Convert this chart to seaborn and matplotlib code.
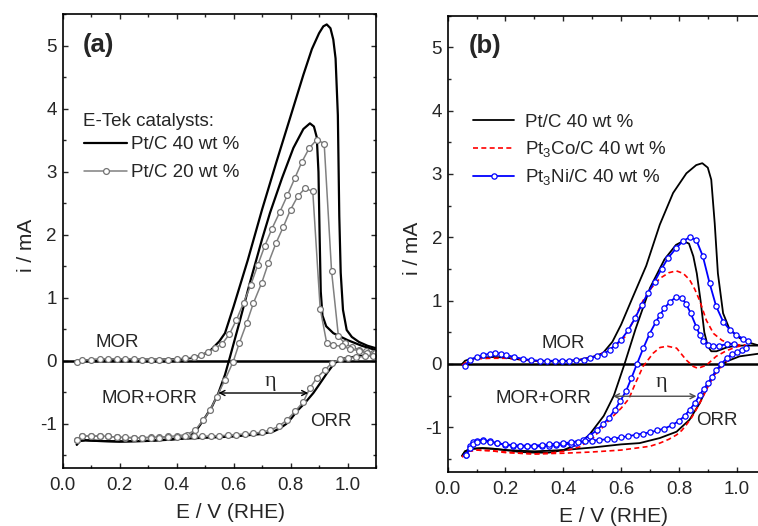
import matplotlib
matplotlib.use("Agg")
import matplotlib.pyplot as plt
from matplotlib.ticker import MultipleLocator
import seaborn as sns

# ---------------- panel (a): E-Tek Pt/C 40 wt % (black) and Pt/C 20 wt % (grey) ----------------
a_mor40_E = [0.05, 0.08, 0.15, 0.25, 0.35, 0.42, 0.46, 0.49, 0.52, 0.55, 0.57, 0.60, 0.65, 0.70, 0.75,
             0.80, 0.845, 0.875, 0.90, 0.915, 0.927, 0.94, 0.95, 0.958, 0.966, 0.971, 0.976, 0.984,
             0.997, 1.015, 1.04, 1.07, 1.1]
a_mor40_i = [0.0, 0.01, 0.02, 0.02, 0.02, 0.03, 0.05, 0.09, 0.17, 0.31, 0.44, 0.86, 1.6, 2.4, 3.15,
             3.88, 4.54, 4.95, 5.2, 5.31, 5.34, 5.28, 5.10, 4.8, 3.9, 2.3, 1.4, 0.81,
             0.49, 0.38, 0.30, 0.24, 0.2]

a_mix40_E = [0.05, 0.06, 0.08, 0.12, 0.2, 0.3, 0.38, 0.42, 0.447, 0.47, 0.5, 0.525, 0.547, 0.57, 0.588,
             0.62, 0.658, 0.70, 0.728, 0.77, 0.81, 0.845, 0.868, 0.882, 0.892, 0.898, 0.902, 0.906,
             0.912, 0.925, 0.95, 1.0, 1.05, 1.1]
a_mix40_i = [-1.33, -1.27, -1.26, -1.27, -1.28, -1.27, -1.25, -1.23, -1.2, -1.1, -0.9, -0.72, -0.51, -0.22, 0.07,
             0.6, 1.25, 1.93, 2.35, 2.9, 3.38, 3.68, 3.77, 3.72, 3.55, 3.0, 2.0, 1.1,
             0.72, 0.55, 0.44, 0.33, 0.24, 0.17]

a_orr40_E = [0.05, 0.06, 0.08, 0.12, 0.2, 0.3, 0.4, 0.5, 0.6, 0.7, 0.74, 0.763, 0.785, 0.805, 0.822,
             0.85, 0.88, 0.9, 0.927, 0.945, 0.962, 0.98, 1.0, 1.05, 1.1]
a_orr40_i = [-1.33, -1.27, -1.26, -1.27, -1.28, -1.27, -1.24, -1.22, -1.2, -1.16, -1.12, -1.07, -1.0, -0.9, -0.8,
             -0.67, -0.51, -0.38, -0.2, -0.09, -0.01, 0.03, 0.05, 0.08, 0.1]

a_mor20_E = [0.05, 0.07, 0.10, 0.13, 0.16, 0.19, 0.22, 0.25, 0.28, 0.31, 0.34, 0.37, 0.40, 0.43, 0.46,
             0.485, 0.51, 0.535, 0.56, 0.585, 0.61, 0.635, 0.66, 0.685, 0.71, 0.735, 0.763, 0.789,
             0.816, 0.84, 0.866, 0.892, 0.918, 0.944, 0.968, 0.99, 1.015, 1.04, 1.065, 1.09]
a_mor20_i = [-0.02, 0.01, 0.02, 0.03, 0.03, 0.03, 0.03, 0.03, 0.02, 0.02, 0.02, 0.02, 0.03, 0.04, 0.06,
             0.09, 0.14, 0.2, 0.27, 0.42, 0.65, 0.92, 1.2, 1.52, 1.83, 2.1, 2.37, 2.63,
             2.91, 3.16, 3.38, 3.51, 3.45, 1.42, 0.39, 0.28, 0.22, 0.18, 0.15, 0.13]

a_mix20_E = [0.05, 0.07, 0.10, 0.13, 0.16, 0.19, 0.22, 0.25, 0.28, 0.31, 0.34, 0.37, 0.40, 0.436, 0.465,
             0.494, 0.518, 0.541, 0.570, 0.599, 0.620, 0.646, 0.670, 0.699, 0.722, 0.749, 0.775, 0.800,
             0.825, 0.851, 0.878, 0.904, 0.927, 0.95, 0.98, 1.01, 1.04, 1.07, 1.095]
a_mix20_i = [-1.25, -1.19, -1.19, -1.19, -1.2, -1.21, -1.22, -1.22, -1.22, -1.21, -1.21, -1.2, -1.19, -1.17, -1.10,
             -0.94, -0.78, -0.57, -0.30, -0.01, 0.28, 0.60, 0.92, 1.24, 1.55, 1.87, 2.13, 2.40,
             2.61, 2.74, 2.69, 0.83, 0.28, 0.25, 0.23, 0.19, 0.16, 0.13, 0.12]

a_orr20_E = [0.05, 0.07, 0.10, 0.13, 0.16, 0.19, 0.22, 0.25, 0.28, 0.31, 0.34, 0.37, 0.40, 0.43, 0.46,
             0.49, 0.52, 0.55, 0.58, 0.61, 0.64, 0.67, 0.70, 0.728, 0.758, 0.787, 0.816, 0.845,
             0.868, 0.892, 0.921, 0.944, 0.974, 1.0, 1.03, 1.06, 1.09]
a_orr20_i = [-1.25, -1.2, -1.19, -1.2, -1.2, -1.21, -1.21, -1.22, -1.22, -1.22, -1.22, -1.21, -1.21, -1.2, -1.2,
             -1.2, -1.19, -1.19, -1.18, -1.17, -1.16, -1.15, -1.13, -1.10, -1.04, -0.94, -0.80, -0.65,
             -0.43, -0.27, -0.14, -0.04, 0.03, 0.05, 0.06, 0.07, 0.08]

# ---------------- panel (b): Pt/C (black), Pt3Co/C (red dashed), Pt3Ni/C (blue circles) ----------------
b_mor_pt_E = [0.05, 0.06, 0.08, 0.12, 0.16, 0.2, 0.25, 0.3, 0.35, 0.4, 0.45, 0.5, 0.537, 0.57, 0.6,
              0.64, 0.687, 0.734, 0.78, 0.826, 0.86, 0.881, 0.9, 0.912, 0.924, 0.935, 0.953, 0.976,
              1.01, 1.04, 1.07, 1.1]
b_mor_pt_i = [0.0, 0.05, 0.08, 0.1, 0.11, 0.1, 0.07, 0.05, 0.04, 0.04, 0.06, 0.11, 0.17, 0.35, 0.62,
              1.05, 1.55, 2.2, 2.7, 3.01, 3.14, 3.17, 3.1, 2.91, 2.22, 1.43, 0.80, 0.54,
              0.41, 0.34, 0.3, 0.28]

b_mix_pt_E = [0.05, 0.06, 0.08, 0.12, 0.16, 0.2, 0.25, 0.3, 0.35, 0.4, 0.45, 0.49, 0.54, 0.575, 0.612,
              0.65, 0.70, 0.75, 0.79, 0.815, 0.835, 0.85, 0.862, 0.875, 0.888, 0.9, 0.912, 0.93,
              0.965, 1.0, 1.04, 1.07, 1.1]
b_mix_pt_i = [-1.45, -1.38, -1.34, -1.33, -1.34, -1.36, -1.39, -1.4, -1.4, -1.36, -1.27, -1.12, -0.82, -0.5, 0.0,
              0.55, 1.2, 1.65, 1.88, 1.94, 1.9, 1.7, 1.43, 1.0, 0.5, 0.28, 0.2, 0.2,
              0.26, 0.29, 0.29, 0.29, 0.29]

b_orr_pt_E = [0.05, 0.06, 0.08, 0.12, 0.16, 0.2, 0.3, 0.4, 0.5, 0.6, 0.664, 0.734, 0.792, 0.837, 0.872,
              0.901, 0.929, 0.965, 1.01, 1.073, 1.1]
b_orr_pt_i = [-1.45, -1.38, -1.34, -1.33, -1.34, -1.36, -1.38, -1.36, -1.32, -1.27, -1.25, -1.17, -1.07, -0.88, -0.62,
              -0.33, -0.10, 0.04, 0.12, 0.16, 0.17]

b_mor_co_E = [0.05, 0.07, 0.1, 0.15, 0.2, 0.25, 0.3, 0.35, 0.4, 0.45, 0.5, 0.55, 0.58, 0.612, 0.645,
              0.676, 0.705, 0.734, 0.765, 0.791, 0.815, 0.837, 0.855, 0.872, 0.895, 0.92, 0.95, 0.98,
              1.01, 1.03]
b_mor_co_i = [-0.02, 0.05, 0.08, 0.09, 0.09, 0.07, 0.05, 0.04, 0.04, 0.06, 0.1, 0.2, 0.29, 0.42, 0.7,
              1.0, 1.2, 1.35, 1.44, 1.47, 1.43, 1.33, 1.18, 1.0, 0.69, 0.48, 0.37, 0.32,
              0.3, 0.3]

b_mix_co_E = [0.05, 0.07, 0.1, 0.15, 0.2, 0.25, 0.3, 0.35, 0.4, 0.457, 0.503, 0.56, 0.6, 0.627, 0.65,
              0.676, 0.711, 0.735, 0.76, 0.792, 0.826, 0.85, 0.866, 0.895, 0.929, 0.965, 1.0, 1.03]
b_mix_co_i = [-1.47, -1.38, -1.36, -1.37, -1.39, -1.41, -1.42, -1.41, -1.38, -1.31, -1.17, -0.88, -0.7, -0.55, -0.3,
              -0.04, 0.17, 0.26, 0.28, 0.25, 0.06, -0.04, -0.07, -0.02, 0.12, 0.21, 0.27, 0.3]

b_orr_co_E = [0.05, 0.07, 0.1, 0.15, 0.2, 0.3, 0.4, 0.5, 0.6, 0.7, 0.734, 0.765, 0.792, 0.81, 0.826,
              0.845, 0.86, 0.878, 0.895, 0.91, 0.924, 0.94, 0.953, 0.97, 0.988, 1.01, 1.03]
b_orr_co_i = [-1.47, -1.38, -1.36, -1.37, -1.4, -1.42, -1.41, -1.39, -1.36, -1.3, -1.25, -1.19, -1.12, -1.05, -0.96,
              -0.84, -0.72, -0.57, -0.41, -0.28, -0.17, -0.08, -0.02, 0.06, 0.14, 0.2, 0.23]

b_mor_ni_E = [0.059, 0.076, 0.1, 0.122, 0.145, 0.163, 0.185, 0.203, 0.23, 0.26, 0.29, 0.318, 0.345, 0.37, 0.395,
              0.42, 0.445, 0.47, 0.491, 0.515, 0.54, 0.56, 0.58, 0.6, 0.624, 0.648, 0.671, 0.693,
              0.716, 0.74, 0.762, 0.791, 0.814, 0.837, 0.86, 0.883, 0.906, 0.929, 0.953, 0.976, 0.999,
              1.022, 1.04]
b_mor_ni_i = [-0.03, 0.06, 0.11, 0.14, 0.16, 0.17, 0.16, 0.14, 0.11, 0.08, 0.06, 0.05, 0.05, 0.05, 0.05,
              0.05, 0.06, 0.07, 0.09, 0.12, 0.16, 0.22, 0.3, 0.38, 0.53, 0.72, 0.93, 1.12,
              1.3, 1.5, 1.67, 1.83, 1.94, 2.0, 1.96, 1.70, 1.28, 0.91, 0.67, 0.54, 0.46,
              0.40, 0.36]

b_mix_ni_E = [0.065, 0.076, 0.088, 0.1, 0.122, 0.145, 0.17, 0.2, 0.225, 0.25, 0.275, 0.3, 0.325, 0.35, 0.375,
              0.4, 0.425, 0.445, 0.468, 0.491, 0.515, 0.538, 0.558, 0.578, 0.598, 0.618, 0.636, 0.655,
              0.677, 0.699, 0.72, 0.734, 0.75, 0.769, 0.791, 0.81, 0.825, 0.841, 0.86, 0.872, 0.883,
              0.9, 0.918, 0.94, 0.965, 0.99]
b_mix_ni_i = [-1.44, -1.3, -1.23, -1.21, -1.2, -1.22, -1.25, -1.28, -1.29, -1.3, -1.3, -1.3, -1.3, -1.29, -1.28,
              -1.27, -1.26, -1.25, -1.2, -1.13, -1.05, -0.95, -0.85, -0.73, -0.58, -0.42, -0.22, 0.0,
              0.25, 0.48, 0.66, 0.77, 0.88, 0.98, 1.06, 1.04, 0.95, 0.80, 0.59, 0.46, 0.36,
              0.3, 0.28, 0.29, 0.31, 0.32]

b_orr_ni_E = [0.065, 0.076, 0.088, 0.1, 0.122, 0.145, 0.17, 0.2, 0.225, 0.25, 0.275, 0.3, 0.325, 0.35, 0.375,
              0.4, 0.425, 0.45, 0.475, 0.5, 0.525, 0.55, 0.575, 0.6, 0.625, 0.65, 0.675, 0.7,
              0.725, 0.75, 0.775, 0.8, 0.82, 0.838, 0.855, 0.872, 0.887, 0.901, 0.915, 0.929, 0.947,
              0.965, 0.983, 1.0, 1.017, 1.033]
b_orr_ni_i = [-1.44, -1.33, -1.26, -1.23, -1.22, -1.23, -1.25, -1.27, -1.28, -1.29, -1.29, -1.29, -1.28, -1.27, -1.26,
              -1.25, -1.24, -1.23, -1.22, -1.21, -1.2, -1.19, -1.18, -1.16, -1.14, -1.12, -1.1, -1.08,
              -1.05, -1.02, -0.97, -0.9, -0.82, -0.72, -0.62, -0.49, -0.39, -0.30, -0.2, -0.10, 0.0,
              0.09, 0.15, 0.19, 0.22, 0.25]

# overpotential arrows (E start, E end, i)
eta_a = (0.547, 0.862, -0.51)
eta_b = (0.572, 0.861, -0.51)

sns.set_style("ticks")
plt.rcParams["font.family"] = ["Liberation Sans", "DejaVu Sans"]
plt.rcParams["mathtext.default"] = "regular"
plt.rcParams["axes.unicode_minus"] = False
plt.rcParams["xtick.direction"] = "in"
plt.rcParams["ytick.direction"] = "in"
plt.rcParams["xtick.top"] = True
plt.rcParams["ytick.right"] = True

FS = 13.5
fig = plt.figure(figsize=(7.58, 5.26), dpi=100)
ax_a = fig.add_axes([0.0825, 0.1103, 0.4136, 0.8624])
ax_b = fig.add_axes([0.5906, 0.1034, 0.4194, 0.8669])


def style_axes(ax):
    ax.set_xlim(0, 1.1)
    ax.set_ylim(-1.7, 5.5)
    ax.xaxis.set_major_locator(MultipleLocator(0.2))
    ax.xaxis.set_minor_locator(MultipleLocator(0.1))
    ax.yaxis.set_major_locator(MultipleLocator(1))
    ax.yaxis.set_minor_locator(MultipleLocator(0.5))
    ax.tick_params(which="major", length=3.8, width=1.0, labelsize=FS, pad=4)
    ax.tick_params(which="minor", length=2.3, width=1.0)
    ax.tick_params(axis="x", pad=6.5)
    for s in ax.spines.values():
        s.set_linewidth(1.2)
        s.set_color("k")
    ax.axhline(0, color="k", lw=1.8, zorder=1)
    ax.set_xlabel("E / V (RHE)", fontsize=15)
    ax.set_ylabel("i / mA", fontsize=15)


grey_kw = dict(color="0.5", lw=1.1, marker="o", markersize=4.2, markerfacecolor="white",
               markeredgecolor="0.45", markeredgewidth=0.9)
blue_kw = dict(color="#0000ff", lw=1.3, marker="o", markersize=3.8, markerfacecolor="white",
               markeredgecolor="#0000ff", markeredgewidth=0.9)
red_kw = dict(color="#ff0000", lw=1.2, dashes=(3, 2))

# panel (a)
style_axes(ax_a)
sns.lineplot(x=a_mor40_E, y=a_mor40_i, ax=ax_a, color="k", lw=1.6, estimator=None, label="Pt/C 40 wt %")
sns.lineplot(x=a_mix40_E, y=a_mix40_i, ax=ax_a, color="k", lw=1.6, estimator=None)
sns.lineplot(x=a_orr40_E, y=a_orr40_i, ax=ax_a, color="k", lw=1.6, estimator=None)
sns.lineplot(x=a_mor20_E, y=a_mor20_i, ax=ax_a, estimator=None, label="Pt/C 20 wt %", **grey_kw)
sns.lineplot(x=a_mix20_E, y=a_mix20_i, ax=ax_a, estimator=None, **grey_kw)
sns.lineplot(x=a_orr20_E, y=a_orr20_i, ax=ax_a, estimator=None, **grey_kw)
ax_a.legend(fontsize=FS, frameon=False, loc="upper left", bbox_to_anchor=(0.04, 0.752),
            borderpad=0, handlelength=2.25, handletextpad=0.25, labelspacing=0.57, numpoints=1)
ax_a.text(0.066, 0.763, "E-Tek catalysts:", transform=ax_a.transAxes, fontsize=FS,
          ha="left", va="center")
ax_a.text(0.065, 0.933, "(a)", transform=ax_a.transAxes, fontsize=18.5, fontweight="bold",
          ha="left", va="center")
ax_a.text(0.193, 0.29, "MOR", fontsize=FS, ha="center", va="center")
ax_a.text(0.305, -0.59, "MOR+ORR", fontsize=FS, ha="center", va="center")
ax_a.text(0.942, -0.96, "ORR", fontsize=FS, ha="center", va="center")
ax_a.annotate("", xy=(eta_a[1], eta_a[2]), xytext=(eta_a[0], eta_a[2]),
              arrowprops=dict(arrowstyle="<->", color="k", lw=1.0, shrinkA=0, shrinkB=0,
                              mutation_scale=9))
ax_a.text(0.728, -0.33, "η", fontsize=16, family=["Liberation Serif", "DejaVu Serif"],
          ha="center", va="center")

# panel (b)
style_axes(ax_b)
sns.lineplot(x=b_mor_pt_E, y=b_mor_pt_i, ax=ax_b, color="k", lw=1.3, estimator=None, label="Pt/C 40 wt %")
sns.lineplot(x=b_mix_pt_E, y=b_mix_pt_i, ax=ax_b, color="k", lw=1.3, estimator=None)
sns.lineplot(x=b_orr_pt_E, y=b_orr_pt_i, ax=ax_b, color="k", lw=1.3, estimator=None)
sns.lineplot(x=b_mor_co_E, y=b_mor_co_i, ax=ax_b, estimator=None, label="Pt$_3$Co/C 40 wt %", **red_kw)
sns.lineplot(x=b_mix_co_E, y=b_mix_co_i, ax=ax_b, estimator=None, **red_kw)
sns.lineplot(x=b_orr_co_E, y=b_orr_co_i, ax=ax_b, estimator=None, **red_kw)
sns.lineplot(x=b_mor_ni_E, y=b_mor_ni_i, ax=ax_b, estimator=None, label="Pt$_3$Ni/C 40 wt %", **blue_kw)
sns.lineplot(x=b_mix_ni_E, y=b_mix_ni_i, ax=ax_b, estimator=None, **blue_kw)
sns.lineplot(x=b_orr_ni_E, y=b_orr_ni_i, ax=ax_b, estimator=None, **blue_kw)
ax_b.legend(fontsize=FS, frameon=False, loc="upper left", bbox_to_anchor=(0.05, 0.805),
            borderpad=0, handlelength=2.2, handletextpad=0.6, labelspacing=0.43, numpoints=1)
ax_b.text(0.065, 0.933, "(b)", transform=ax_b.transAxes, fontsize=18.5, fontweight="bold",
          ha="left", va="center")
ax_b.text(0.401, 0.33, "MOR", fontsize=FS, ha="center", va="center")
ax_b.text(0.333, -0.54, "MOR+ORR", fontsize=FS, ha="center", va="center")
ax_b.text(0.933, -0.90, "ORR", fontsize=FS, ha="center", va="center")
ax_b.annotate("", xy=(eta_b[1], eta_b[2]), xytext=(eta_b[0], eta_b[2]),
              arrowprops=dict(arrowstyle="<->", color="0.3", lw=1.0, shrinkA=0, shrinkB=0,
                              mutation_scale=9))
ax_b.text(0.739, -0.30, "η", fontsize=16, family=["Liberation Serif", "DejaVu Serif"],
          ha="center", va="center")

ax_a.xaxis.set_label_coords(0.536, -0.077)
ax_b.xaxis.set_label_coords(0.523, -0.077)
ax_a.yaxis.set_label_coords(-0.085, 0.49)
ax_b.yaxis.set_label_coords(-0.08, 0.49)

fig.savefig("out.png", dpi=100)
